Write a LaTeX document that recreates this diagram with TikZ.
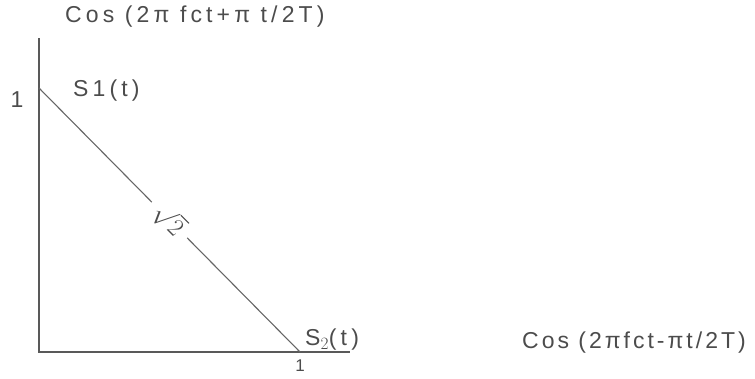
\documentclass[tikz,border=0pt]{standalone}
\usepackage{fontspec}
\setmainfont{Liberation Sans}
\newfontfamily\widefont[LetterSpace=18]{Liberation Sans}
\newfontfamily\narrowfont[LetterSpace=13]{Liberation Sans}
\usetikzlibrary{positioning}

\begin{document}
\begin{tikzpicture}[
    x=1pt, y=-1pt,
    axis/.style={draw=black!65, line width=1.3pt},
    trace/.style={draw=black!60, line width=1.1pt},
    lbl/.style={text=black!70, inner sep=0pt, font=\widefont\fontsize{23}{26}\selectfont},
    cut/.style={fill=white, inner sep=9pt, font=\fontsize{25}{28}\selectfont, text=black!70}
]
\useasboundingbox (0,0) rectangle (755,378);

% axis end points and signal points
\coordinate (origin) at (39,352);
\coordinate (y_end) at (39,38);
\coordinate (x_end) at (350,352);
\coordinate (s1_pt) at (39,88);
\coordinate (s2_pt) at (300,352);

% axes
\draw[axis] (y_end) -- (origin) -- (x_end);

% distance between the two signals
\draw[trace] (s1_pt) -- node[cut, sloped] {$\sqrt{2}$} (s2_pt);

% labels
\node[lbl, anchor=west] (y_label) at (65,17) {Cos (2π fct+π t/2T)};
\node[lbl, anchor=west, font=\narrowfont\fontsize{23}{26}\selectfont] (x_label) at (522,343) {Cos (2πfct-πt/2T)};
\node[lbl, anchor=west] (s1_label) at (73,91) {S1(t)};
\node[lbl, anchor=west] (s2_label) at (305,340) {S$_2$(t)};
\node[lbl] (one_y) at (17,100) {1};
\node[lbl, font=\widefont\fontsize{17}{20}\selectfont] (one_x) at (300,366) {1};

\end{tikzpicture}
\end{document}
